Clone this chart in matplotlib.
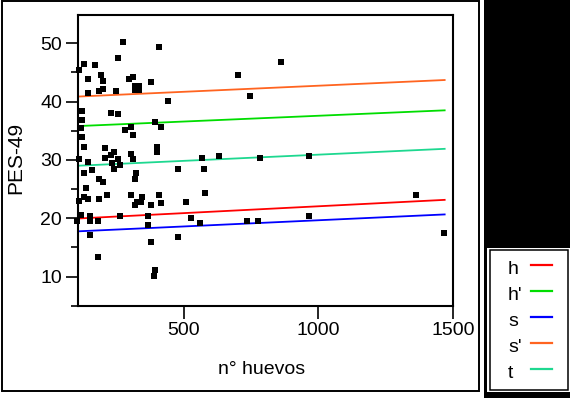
import matplotlib
matplotlib.use("Agg")
import matplotlib.pyplot as plt
from matplotlib.patches import Rectangle
from matplotlib.lines import Line2D
from matplotlib.ticker import MultipleLocator, FixedLocator

plt.rcParams['font.family'] = ['Liberation Sans', 'DejaVu Sans']

# ---- data ----
huevos = [273, 407, 130, 169, 109, 254, 191, 143, 199, 296, 309, 379, 184, 199, 247,
          143, 442, 121, 227, 254, 121, 393, 414, 281, 304, 117, 310, 121, 130, 205,
          240, 227, 205, 254, 304, 310, 401, 401, 144, 111, 233, 262, 568, 630, 240,
          157, 130, 477, 576, 322, 317, 184, 199, 135, 130, 144, 184, 214, 304, 344,
          407, 326, 339, 317, 414, 379, 506, 580, 111, 116, 151, 262, 367, 101, 151,
          179, 526, 367, 561, 151, 477, 379, 179, 394, 387, 1361, 1466, 964, 733, 777,
          859, 700, 747, 781, 964]
pes49 = [50.3, 49.3, 46.5, 46.2, 45.5, 47.5, 44.5, 43.9, 43.6, 43.9, 44.2, 43.3, 41.9, 42.2, 41.9,
         41.4, 40.05, 38.4, 38.1, 37.8, 36.8, 36.5, 35.7, 35.2, 35.7, 35.4, 34.2, 33.9, 32.3, 32.0,
         31.4, 30.8, 30.3, 30.1, 31.0, 30.1, 32.3, 31.4, 29.7, 30.2, 29.4, 29.1, 30.3, 30.7, 28.5,
         28.2, 27.8, 28.5, 28.5, 27.8, 26.8, 26.8, 26.2, 25.2, 23.7, 23.3, 23.3, 23.9, 23.9, 23.7,
         23.9, 22.7, 22.7, 22.3, 22.65, 22.3, 22.7, 24.3, 23.0, 20.6, 20.4, 20.4, 20.4, 19.6, 19.5,
         19.5, 20.1, 18.85, 19.1, 17.2, 16.8, 15.9, 13.3, 11.1, 10.1, 23.9, 17.5, 20.4, 19.5, 19.5,
         46.8, 44.5, 41.0, 30.4, 30.7]
big_huevos = [325]
big_pes49 = [42.3]

line_x = [105, 1469]
series_names = ["h", "h'", "s", "s'", "t"]
series_y = {
    "h":  [19.95, 23.15],
    "h'": [35.8, 38.5],
    "s":  [17.75, 20.65],
    "s'": [40.86, 43.7],
    "t":  [29.0, 31.9],
}
series_colors = {"h": "#ff0000", "h'": "#00dd00", "s": "#0000ff",
                 "s'": "#ff6420", "t": "#1ed890"}

xticks = [500, 1000, 1500]
yticks = [10, 20, 30, 40, 50]

W, H = 570, 398
fig = plt.figure(figsize=(W / 100, H / 100), dpi=100)

def fx(px):
    return px / W

def fy(py):
    return 1 - py / H

# outer frame of the main panel
fig.add_artist(Rectangle((fx(1.5), fy(391)), fx(479) - fx(1.5), fy(1) - fy(391),
                         transform=fig.transFigure, fill=False, ec='black', lw=1.4))
# black panel on the right
fig.add_artist(Rectangle((fx(484), fy(248)), fx(570) - fx(484), fy(0) - fy(248),
                         transform=fig.transFigure, fc='black', ec='none'))
fig.add_artist(Rectangle((fx(484), fy(398)), fx(487) - fx(484), fy(248) - fy(398),
                         transform=fig.transFigure, fc='black', ec='none'))
fig.add_artist(Rectangle((fx(484), fy(398)), fx(570) - fx(484), fy(392) - fy(398),
                         transform=fig.transFigure, fc='black', ec='none'))
# legend box
fig.add_artist(Rectangle((fx(489.5), fy(389.5)), fx(567.5) - fx(489.5), fy(250) - fy(389.5),
                         transform=fig.transFigure, fill=False, ec='black', lw=1.1))

ax = fig.add_axes([fx(77.7), fy(305.7), fx(453) - fx(77.7), fy(15) - fy(305.7)])

for name in series_names:
    ax.plot(line_x, series_y[name], color=series_colors[name], lw=1.3, zorder=2)

ax.scatter(huevos, pes49, marker='s', s=14, c='black', linewidths=0, zorder=3, clip_on=False)
ax.scatter(big_huevos, big_pes49, marker='s', s=48, c='black', linewidths=0, zorder=3, clip_on=False)

ax.set_xlim(105, 1500)
ax.set_ylim(5.0, 54.85)
ax.xaxis.set_major_locator(FixedLocator(xticks))
ax.yaxis.set_major_locator(FixedLocator(yticks))
ax.yaxis.set_minor_locator(MultipleLocator(5))
ax.tick_params(axis='both', which='major', length=9, width=1.2, labelsize=14, direction='out')
ax.tick_params(axis='y', which='major', pad=2.2)
ax.tick_params(axis='x', which='major', pad=2.5)
ax.tick_params(axis='y', which='minor', length=4.8, width=1.2, direction='out')
ax.tick_params(axis='x', which='minor', length=0)
for sp in ax.spines.values():
    sp.set_linewidth(1.5)

ax.set_xlabel("n° huevos", fontsize=14)
ax.set_ylabel("PES-49", fontsize=15)
ax.xaxis.set_label_coords(0.49, -0.19)
ax.yaxis.set_label_coords(-0.14, 0.51)

# legend entries
for i, name in enumerate(series_names):
    ly = 264.7 + 26 * i
    fig.text(fx(508), fy(ly + 9.5), name, fontsize=14, ha='left', va='baseline')
    fig.add_artist(Line2D([fx(531), fx(552)], [fy(ly), fy(ly)], color=series_colors[name],
                          lw=1.6, transform=fig.transFigure))

fig.savefig("out.png", dpi=100)
